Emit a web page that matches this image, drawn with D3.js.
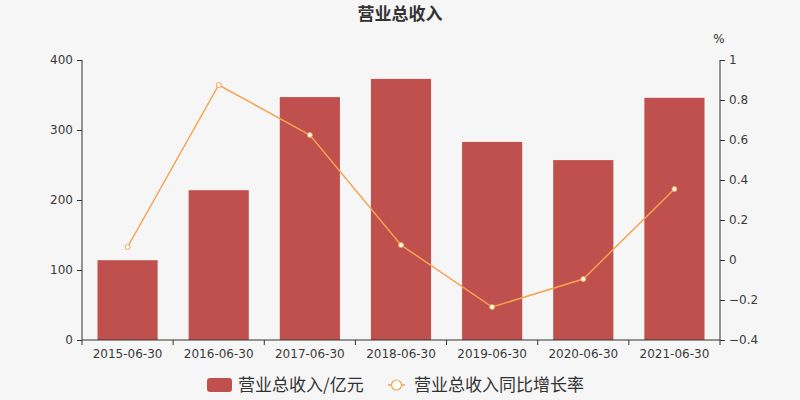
<!DOCTYPE html>
<html><head><meta charset="utf-8">
<script src="https://cdn.jsdelivr.net/npm/d3@7"></script>
<style>body{margin:0;background:#f6f6f6;} svg{display:block;font-family:"Noto Sans CJK SC","DejaVu Sans",sans-serif;}</style>
</head><body><svg id="c" width="800" height="400"></svg>
<script>
const categories = ["2015-06-30","2016-06-30","2017-06-30","2018-06-30","2019-06-30","2020-06-30","2021-06-30"];
const revenue = [114, 214, 347, 373, 283, 257, 346];
const growth = [0.065, 0.875, 0.625, 0.075, -0.235, -0.095, 0.355];
const leftTicks = [0, 100, 200, 300, 400];
const rightTicks = [-0.4, -0.2, 0, 0.2, 0.4, 0.6, 0.8, 1];

const svg = d3.select("#c");
svg.append("rect").attr("width",800).attr("height",400).attr("fill","#f6f6f6");
const L=82, R=720, T=60, B=340;
const x = d3.scaleBand().domain(categories).range([L,R]).paddingInner(0.34).paddingOuter(0.17);
const xb = d3.scaleBand().domain(categories).range([L,R]);
const yL = d3.scaleLinear().domain([0,400]).range([B,T]);
const yR = d3.scaleLinear().domain([-0.4,1]).range([B,T]);

svg.append("text").attr("x",400).attr("y",20).attr("text-anchor","middle")
  .attr("font-size",17).attr("font-weight","bold").attr("fill","#333").text("营业总收入");

svg.selectAll(".bar").data(revenue).join("rect")
  .attr("x",(d,i)=>x(categories[i])).attr("width",x.bandwidth())
  .attr("y",d=>yL(d)).attr("height",d=>B-yL(d)).attr("fill","#bf504d");

const gL = svg.append("g").attr("transform",`translate(${L},0)`)
  .call(d3.axisLeft(yL).tickValues(leftTicks).tickSize(5).tickPadding(4));
const gR = svg.append("g").attr("transform",`translate(${R},0)`)
  .call(d3.axisRight(yR).tickValues(rightTicks).tickSize(5).tickPadding(4).tickFormat(d=>d3.format("~g")(d)));
const gX = svg.append("g").attr("transform",`translate(0,${B})`)
  .call(d3.axisBottom(xb).tickSize(0).tickPadding(9));
[gL,gR,gX].forEach(g=>{
  g.selectAll("path,line").attr("stroke","#333");
  g.selectAll("text").attr("fill","#3a3a3a").attr("font-size",12).attr("font-family","DejaVu Sans, sans-serif");
});
gL.select(".domain").attr("d",`M0,${T}V${B}`);
gR.select(".domain").attr("d",`M0,${T}V${B}`);
gX.select(".domain").attr("d",`M${L},0H${R}`);
gX.selectAll(".sep").data(d3.range(categories.length+1)).join("line")
  .attr("x1",i=>L+i*xb.bandwidth()).attr("x2",i=>L+i*xb.bandwidth())
  .attr("y1",0).attr("y2",5).attr("stroke","#333");

svg.append("text").attr("x",719).attr("y",43).attr("text-anchor","middle")
  .attr("font-size",12).attr("fill","#333").attr("font-family","DejaVu Sans, sans-serif").text("%");

const line = d3.line().x((d,i)=>xb(categories[i])+xb.bandwidth()/2).y(d=>yR(d));
svg.append("path").datum(growth).attr("d",line).attr("fill","none")
  .attr("stroke","#f5a34f").attr("stroke-width",1.5);
svg.selectAll(".pt").data(growth).join("circle")
  .attr("cx",(d,i)=>xb(categories[i])+xb.bandwidth()/2).attr("cy",d=>yR(d)).attr("r",2.5)
  .attr("fill","#fff").attr("stroke","#f5a34f").attr("stroke-width",1);

const lg = svg.append("g");
lg.append("rect").attr("x",207).attr("y",378).attr("width",25).attr("height",14).attr("rx",3).attr("fill","#bf504d");
lg.append("text").attr("x",238).attr("y",391).attr("font-size",17).attr("fill","#333").text("营业总收入/亿元");
lg.append("line").attr("x1",388).attr("x2",405).attr("y1",385).attr("y2",385).attr("stroke","#f5a34f").attr("stroke-width",1.5);
lg.append("circle").attr("cx",396.5).attr("cy",385).attr("r",5).attr("fill","#fff").attr("stroke","#f5a34f").attr("stroke-width",1.2);
lg.append("text").attr("x",414).attr("y",391).attr("font-size",17).attr("fill","#333").text("营业总收入同比增长率");
</script></body></html>
